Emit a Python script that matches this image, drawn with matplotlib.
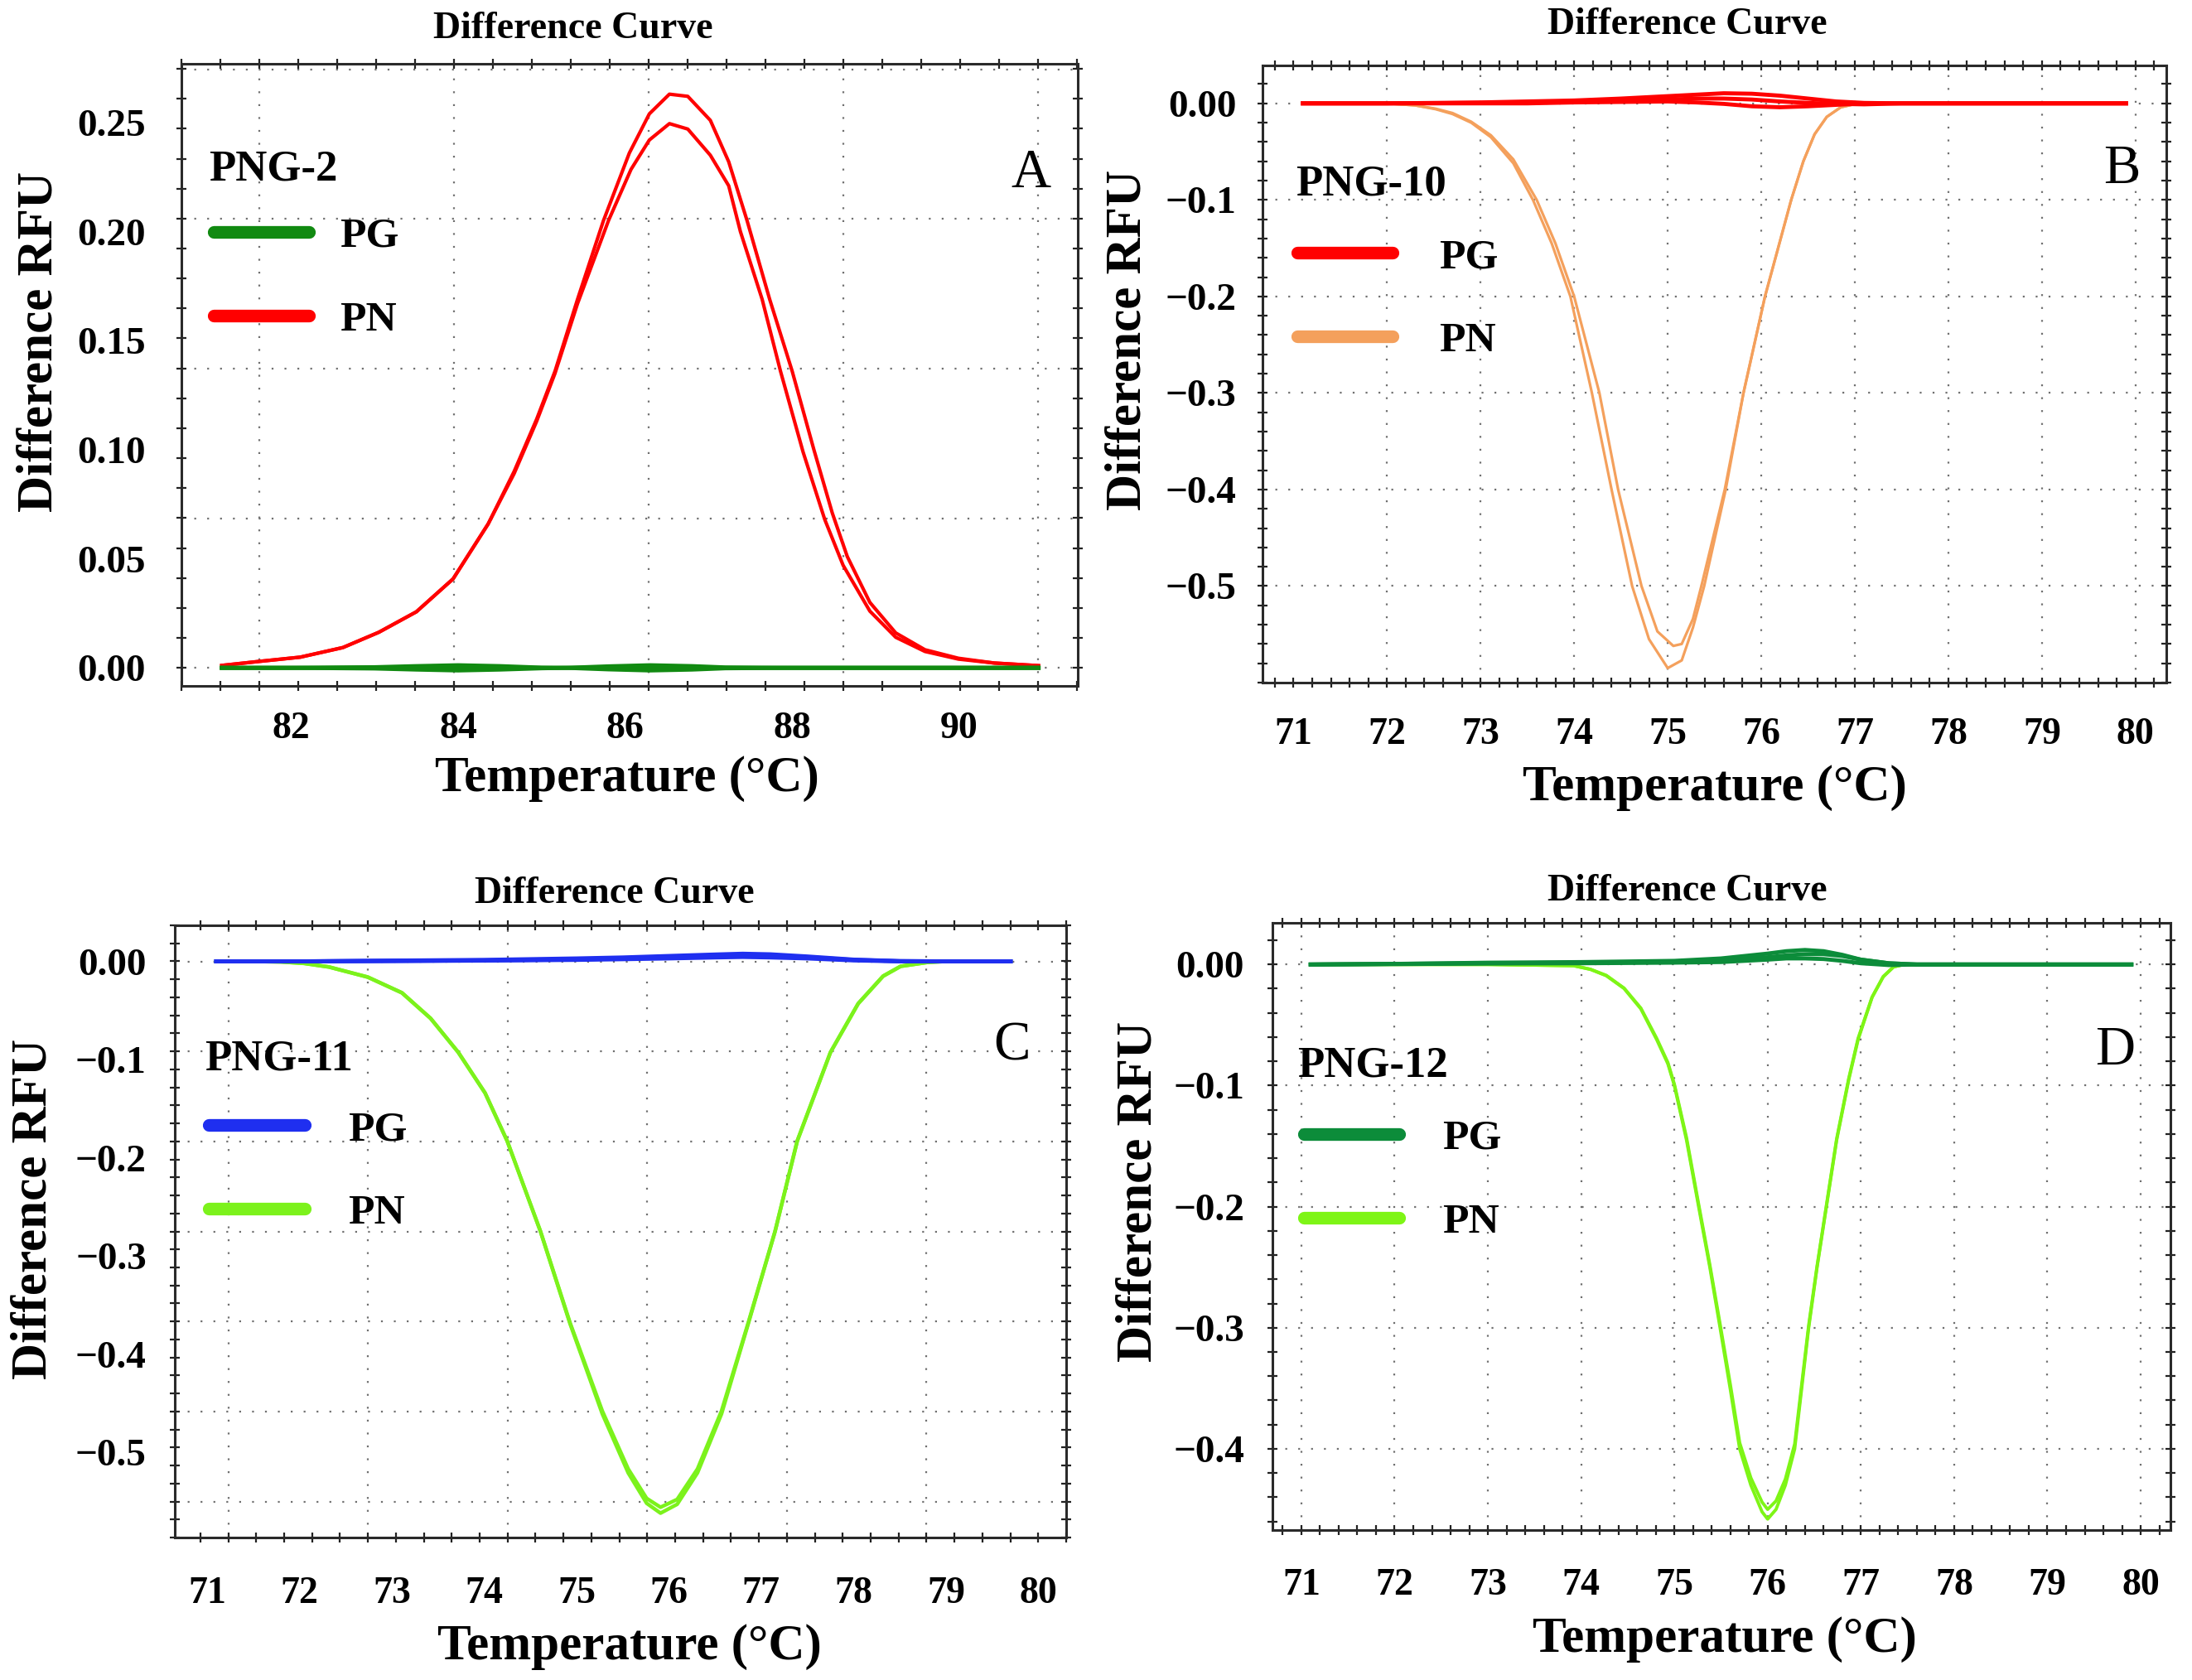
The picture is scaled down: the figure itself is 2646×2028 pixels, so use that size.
import numpy as np
import matplotlib.pyplot as plt

plt.rcParams["font.family"] = ["Liberation Serif", "DejaVu Serif"]
plt.rcParams["font.weight"] = "bold"

M = "\u2212"

# ---------------- A : PNG-2 ----------------
a_pn1_t = [81.17, 81.63, 82.11, 82.62, 83.05, 83.50, 83.94, 84.36, 84.67, 84.94, 85.16,
           85.43, 85.74, 86.05, 86.29, 86.53, 86.75, 87.02, 87.24, 87.46, 87.73, 88.0,
           88.26, 88.48, 88.66, 88.93, 89.24, 89.59, 89.99, 90.42, 90.95]
a_pn1_v = [0.0011, 0.003, 0.0049, 0.0093, 0.0163, 0.0257, 0.0408, 0.066, 0.090, 0.114, 0.136,
           0.169, 0.205, 0.236, 0.254, 0.263, 0.262, 0.251, 0.232, 0.205, 0.169, 0.136,
           0.100, 0.071, 0.051, 0.030, 0.016, 0.0083, 0.0044, 0.0022, 0.001]
a_pn2_t = [81.17, 81.63, 82.11, 82.62, 83.05, 83.50, 83.94, 84.36, 84.67, 84.94, 85.16,
           85.43, 85.8, 86.07, 86.29, 86.53, 86.75, 87.02, 87.24, 87.38, 87.64, 87.86,
           88.13, 88.39, 88.61, 88.93, 89.24, 89.59, 89.99, 90.42, 90.95]
a_pn2_v = [0.0011, 0.003, 0.0049, 0.0093, 0.0163, 0.0257, 0.0408, 0.066, 0.089, 0.113, 0.135,
           0.167, 0.205, 0.2285, 0.242, 0.2495, 0.247, 0.235, 0.221, 0.200, 0.169, 0.136,
           0.099, 0.068, 0.047, 0.026, 0.014, 0.0075, 0.004, 0.0022, 0.001]
a_pg_t = [81.17, 82.0, 83.0, 83.5, 84.0, 84.5, 85.0, 85.3, 85.8, 86.3, 86.8, 87.2, 88.0, 89.0, 90.0, 90.95]
a_pg1 = [0, 0, 0.0003, 0.0008, 0.0012, 0.0008, 0.0001, 0, 0.0007, 0.0012, 0.0008, 0.0002, 0, 0, 0, 0]
a_pg2 = [0, 0, -0.0003, -0.0008, -0.0012, -0.0008, -0.0002, 0, -0.0007, -0.0012, -0.0008, -0.0002, 0, 0, 0, 0]
a_pg3 = [0, 0, 0.0001, 0.0002, 0.0003, 0.0001, 0, 0, 0.0002, 0.0003, 0.0002, 0, 0, 0, 0, 0]
a_xticks = [82, 84, 86, 88, 90]
a_yticks = [0.0, 0.05, 0.10, 0.15, 0.20, 0.25]
a_ylabels = ["0.00", "0.05", "0.10", "0.15", "0.20", "0.25"]

# ---------------- B : PNG-10 ----------------
b_pn1_t = [71.1, 72.0, 72.3, 72.52, 72.7, 72.9, 73.11, 73.35, 73.56, 73.76, 73.96, 74.19,
           74.40, 74.62, 74.80, 75.0, 75.15, 75.27, 75.39, 75.62, 75.81, 76.04, 76.32, 76.45,
           76.57, 76.7, 76.85, 77.03, 79.9]
b_pn1_v = [0, 0, -0.002, -0.006, -0.011, -0.02, -0.035, -0.062, -0.1, -0.145, -0.2, -0.3,
           -0.4, -0.5, -0.555, -0.585, -0.577, -0.543, -0.5, -0.4, -0.3, -0.2, -0.1, -0.06,
           -0.032, -0.014, -0.004, 0, 0]
b_pn2_t = [71.1, 72.0, 72.3, 72.52, 72.7, 72.9, 73.11, 73.35, 73.60, 73.80, 74.0, 74.27,
           74.47, 74.72, 74.89, 75.06, 75.15, 75.27, 75.36, 75.61, 75.81, 76.04, 76.32, 76.45,
           76.57, 76.7, 76.85, 77.03, 79.9]
b_pn2_v = [0, 0, -0.002, -0.0055, -0.010, -0.019, -0.033, -0.058, -0.1, -0.145, -0.2, -0.3,
           -0.4, -0.5, -0.547, -0.562, -0.56, -0.534, -0.5, -0.4, -0.3, -0.2, -0.1, -0.06,
           -0.032, -0.014, -0.004, 0, 0]
b_pg_t = [71.1, 72.0, 73.0, 73.5, 74.0, 74.5, 75.0, 75.3, 75.6, 75.9, 76.2, 76.5, 76.8, 77.1,
          77.5, 78.0, 79.0, 79.9]
b_pg1 = [0, 0, 0.001, 0.002, 0.003, 0.005, 0.0075, 0.009, 0.0105, 0.010, 0.008, 0.005, 0.002,
         0.0005, 0, 0, 0, 0]
b_pg2 = [0, 0, 0.0005, 0.001, 0.002, 0.003, 0.004, 0.005, 0.005, 0.004, 0.002, 0.0005, -0.0005,
         -0.001, 0, 0, 0, 0]
b_pg3 = [0, 0, 0, 0, 0.001, 0.0015, 0.002, 0.001, -0.0005, -0.003, -0.004, -0.003, -0.0015,
         0, 0, 0, 0, 0]
b_yticks = [0.0, -0.1, -0.2, -0.3, -0.4, -0.5]
b_ylabels = ["0.00", M + "0.1", M + "0.2", M + "0.3", M + "0.4", M + "0.5"]

# ---------------- C : PNG-11 ----------------
c_pn1_t = [71.1, 71.5, 71.8, 72.05, 72.32, 72.74, 73.11, 73.42, 73.72, 74.01, 74.25, 74.61,
           74.93, 75.28, 75.56, 75.76, 75.91, 76.09, 76.31, 76.57, 76.86, 77.15, 77.39, 77.75,
           78.05, 78.32, 78.51, 78.8, 79.0, 79.7]
c_pn1_v = [0, 0, -0.0005, -0.002, -0.0057, -0.016, -0.032, -0.058, -0.0926, -0.134, -0.183,
           -0.275, -0.369, -0.461, -0.521, -0.552, -0.562, -0.553, -0.521, -0.461, -0.369,
           -0.275, -0.183, -0.0926, -0.043, -0.015, -0.005, -0.001, 0, 0]
c_pn2_v = [0, 0, -0.0005, -0.002, -0.0057, -0.016, -0.032, -0.058, -0.0926, -0.134, -0.183,
           -0.275, -0.368, -0.458, -0.517, -0.547, -0.556, -0.548, -0.517, -0.458, -0.368,
           -0.275, -0.183, -0.0926, -0.043, -0.015, -0.005, -0.001, 0, 0]
c_pg_t = [71.1, 72.0, 73.0, 74.0, 75.0, 75.5, 76.0, 76.5, 76.8, 77.1, 77.5, 78.0, 78.5, 79.0, 79.7]
c_pg1 = [0, 0, 0.0008, 0.0015, 0.003, 0.004, 0.0055, 0.007, 0.0078, 0.0072, 0.005, 0.0018, 0.0003, 0, 0]
c_pg2 = [0, 0, 0.0005, 0.001, 0.002, 0.003, 0.0042, 0.0055, 0.006, 0.0058, 0.0042, 0.0015, 0.0002, 0, 0]
c_pg3 = [0, 0, 0.0003, 0.0008, 0.0015, 0.0022, 0.003, 0.004, 0.0045, 0.004, 0.003, 0.001, 0, 0, 0]
c_yticks = [0.0, -0.1, -0.2, -0.3, -0.4, -0.5]
c_ylabels = ["0.00", M + "0.1", M + "0.2", M + "0.3", M + "0.4", M + "0.5"]

# ---------------- D : PNG-12 ----------------
d_pn_t = [71.1, 73.0, 73.92, 74.1, 74.27, 74.46, 74.64, 74.81, 74.93, 75.0, 75.13, 75.26,
          75.38, 75.49, 75.60, 75.70, 75.82, 75.94, 76.0, 76.09, 76.19, 76.29, 76.44, 76.53,
          76.63, 76.74, 76.87, 76.97, 77.12, 77.24, 77.35, 77.46, 79.9]
d_pn1_v = [0, 0, -0.001, -0.004, -0.0093, -0.0198, -0.0366, -0.062, -0.082, -0.1, -0.145, -0.2,
           -0.25, -0.3, -0.351, -0.4, -0.43, -0.452, -0.458, -0.45, -0.43, -0.4, -0.3, -0.25,
           -0.2, -0.145, -0.095, -0.062, -0.027, -0.01, -0.002, 0, 0]
d_pn2_v = [0, 0, -0.001, -0.004, -0.009, -0.0195, -0.036, -0.061, -0.081, -0.099, -0.143, -0.198,
           -0.248, -0.297, -0.347, -0.395, -0.424, -0.444, -0.45, -0.443, -0.425, -0.396, -0.298,
           -0.249, -0.199, -0.144, -0.094, -0.061, -0.027, -0.01, -0.002, 0, 0]
d_pg_t = [71.1, 72.0, 73.0, 74.0, 75.0, 75.5, 76.0, 76.2, 76.4, 76.6, 76.8, 77.0, 77.3, 77.6,
          78.0, 79.0, 79.9]
d_pg1 = [0, 0.0005, 0.0015, 0.002, 0.003, 0.005, 0.009, 0.011, 0.012, 0.011, 0.008, 0.004,
         0.001, 0, 0, 0, 0]
d_pg2 = [0, 0.0005, 0.001, 0.0015, 0.002, 0.0035, 0.006, 0.0075, 0.0085, 0.0085, 0.007, 0.004,
         0.001, 0, 0, 0, 0]
d_pg3 = [0, 0.0003, 0.0008, 0.001, 0.0015, 0.002, 0.004, 0.005, 0.005, 0.0045, 0.003, 0.001,
         -0.0005, 0, 0, 0, 0]
d_yticks = [0.0, -0.1, -0.2, -0.3, -0.4]
d_ylabels = ["0.00", M + "0.1", M + "0.2", M + "0.3", M + "0.4"]

t_ticks = [71, 72, 73, 74, 75, 76, 77, 78, 79, 80]

fig = plt.figure(figsize=(26.46, 20.28), dpi=100)


def style_panel(ax, xlim, ylim, xticks, yticks, ylabels, grid_x, grid_y,
                minor_x, minor_y, xpad, ypad):
    ax.set_xlim(xlim)
    ax.set_ylim(ylim)
    ax.set_xticks(xticks, [str(t) for t in xticks])
    ax.set_yticks(yticks, ylabels)
    ax.set_xticks(minor_x, minor=True)
    ax.set_yticks(minor_y, minor=True)
    ax.xaxis.remove_overlapping_locs = False
    ax.yaxis.remove_overlapping_locs = False
    ax.tick_params(which="major", length=0)
    ax.tick_params(axis="x", which="major", labelsize=33, pad=xpad)
    ax.tick_params(axis="y", which="major", labelsize=34, pad=ypad)
    ax.tick_params(which="minor", direction="inout", length=9, width=1.6,
                   color="#222222", top=True, right=True)
    for g in grid_x:
        ax.axvline(g, color="#707070", lw=1.6, ls=(0, (1, 6)), zorder=0.5)
    for g in grid_y:
        ax.axhline(g, color="#707070", lw=1.6, ls=(0, (1, 6)), zorder=0.5)
    for s in ax.spines.values():
        s.set_linewidth(2.2)
        s.set_color("#2a2a2a")


def decorate(ax, title_xy, name, name_xy, letter, letter_xy, pg, pn, leg_xy,
             textpad, xlab_xy, ylab_xy):
    ax.text(*title_xy, "Difference Curve", transform=ax.transAxes,
            ha="center", va="center", fontsize=33)
    ax.text(*name_xy, name, transform=ax.transAxes, ha="left", va="center", fontsize=38)
    ax.text(*letter_xy, letter, transform=ax.transAxes, ha="center", va="center",
            fontsize=48, fontweight="normal")
    leg = ax.legend([pg, pn], ["PG", "PN"], loc="upper left", bbox_to_anchor=leg_xy,
                    frameon=False, prop={"weight": "bold", "size": 37},
                    handlelength=2.24, handletextpad=textpad, labelspacing=1.05,
                    borderpad=0, borderaxespad=0)
    for ln in leg.get_lines():
        ln.set_linewidth(11)
        ln.set_solid_capstyle("round")
    ax.set_xlabel("Temperature (\u00b0C)", fontsize=44, fontweight="bold", va="center")
    ax.set_ylabel("Difference RFU", fontsize=44, fontweight="bold", va="center")
    ax.xaxis.set_label_coords(*xlab_xy)
    ax.yaxis.set_label_coords(*ylab_xy)


# Panel A
ax = fig.add_axes([0.0828, 0.5917, 0.4089, 0.3703])
ax.plot(a_pn1_t, a_pn1_v, color="#ff0000", lw=3.0)
pn, = ax.plot(a_pn2_t, a_pn2_v, color="#ff0000", lw=3.0)
for v in (a_pg1, a_pg2, a_pg3):
    pg, = ax.plot(a_pg_t, v, color="#118a11", lw=3.5)
style_panel(ax, (80.69, 91.42), (-0.0083, 0.2769), a_xticks, a_yticks, a_ylabels,
            81.62 + 2.331 * np.arange(5), 0.0686 * np.arange(5),
            81.62 + 0.4662 * np.arange(-2, 22), 0.01373 * np.arange(0, 21),
            xpad=22, ypad=31)
decorate(ax, (0.437, 1.056), "PNG-2", (0.0305, 0.83), "A", (0.948, 0.823), pg, pn,
         (0.0356, 0.7537), 0.73, (0.497, -0.149), (-0.159, 0.553))

# Panel B
ax = fig.add_axes([0.5760, 0.5937, 0.4123, 0.3674])
ax.plot(b_pn1_t, b_pn1_v, color="#f4a05c", lw=2.3)
pn, = ax.plot(b_pn2_t, b_pn2_v, color="#f4a05c", lw=2.3)
for v in (b_pg1, b_pg2, b_pg3):
    pg, = ax.plot(b_pg_t, v, color="#ff0000", lw=3.5)
style_panel(ax, (70.67, 80.33), (-0.599, 0.0394), t_ticks, b_yticks, b_ylabels,
            np.arange(72, 81), -0.1 * np.arange(6),
            70.8 + 0.2 * np.arange(48), 0.02 - 0.02 * np.arange(32),
            xpad=30, ypad=23)
decorate(ax, (0.47, 1.066), "PNG-10", (0.0367, 0.8075), "B", (0.9505, 0.832), pg, pn,
         (0.038, 0.72), 1.1, (0.5, -0.171), (-0.149, 0.555))

# Panel C
ax = fig.add_axes([0.0797, 0.0848, 0.4067, 0.3644])
ax.plot(c_pn1_t, c_pn1_v, color="#7cf21c", lw=3.2)
pn, = ax.plot(c_pn1_t, c_pn2_v, color="#7cf21c", lw=3.2)
for v in (c_pg1, c_pg2, c_pg3):
    pg, = ax.plot(c_pg_t, v, color="#1f2ff0", lw=3.5)
style_panel(ax, (70.65, 80.18), (-0.5744, 0.0364), t_ticks, c_yticks, c_ylabels,
            71.23 + 1.512 * np.arange(6), -0.0917 * np.arange(7),
            71.23 + 0.3024 * np.arange(-1, 31), 0.0367 - 0.01834 * np.arange(35),
            xpad=34, ypad=24.5)
decorate(ax, (0.4935, 1.0514), "PNG-11", (0.0335, 0.781), "C", (0.9387, 0.803), pg, pn,
         (0.0386, 0.698), 1.02, (0.51, -0.179), (-0.158, 0.537))

# Panel D
ax = fig.add_axes([0.5805, 0.0893, 0.4097, 0.3614])
ax.plot(d_pn_t, d_pn1_v, color="#7ef516", lw=2.8)
pn, = ax.plot(d_pn_t, d_pn2_v, color="#7ef516", lw=2.8)
for v in (d_pg1, d_pg2, d_pg3):
    pg, = ax.plot(d_pg_t, v, color="#0c8c3a", lw=3.5)
style_panel(ax, (70.69, 80.32), (-0.467, 0.0344), t_ticks, d_yticks, d_ylabels,
            np.arange(71, 81), -0.1 * np.arange(5),
            70.8 + 0.2 * np.arange(48), 0.02 - 0.02 * np.arange(25),
            xpad=33, ypad=24.5)
decorate(ax, (0.462, 1.052), "PNG-12", (0.0277, 0.764), "D", (0.938, 0.789), pg, pn,
         (0.0346, 0.677), 1.02, (0.504, -0.18), (-0.149, 0.557))

fig.savefig("out.png", dpi=100)
